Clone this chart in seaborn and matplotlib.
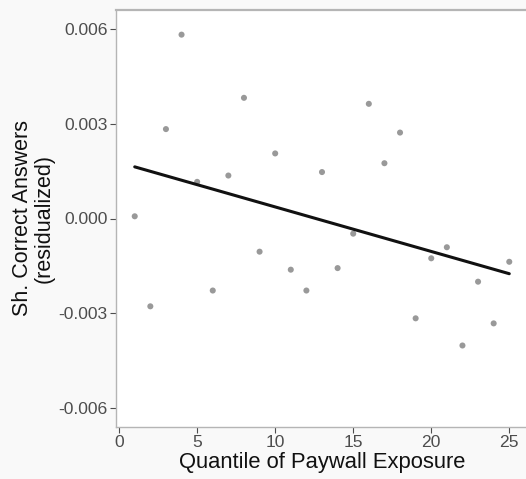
import matplotlib
matplotlib.use("Agg")
import matplotlib.pyplot as plt
import seaborn as sns
import pandas as pd

quantile = list(range(1, 26))
residual = [0.00007, -0.00278, 0.00283, 0.00582, 0.00116, -0.00228, 0.00136, 0.00382,
            -0.00105, 0.00206, -0.00162, -0.00228, 0.00147, -0.00157, -0.00048,
            0.00363, 0.00175, 0.00272, -0.00316, -0.00126, -0.00091, -0.00402,
            -0.00200, -0.00332, -0.00137]
yticks = [-0.006, -0.003, 0.0, 0.003, 0.006]
ytick_labels = ["-0.006", "-0.003", "0.000", "0.003", "0.006"]
xticks = [0, 5, 10, 15, 20, 25]

df = pd.DataFrame({"q": quantile, "r": residual})

sns.set_style("white")
plt.rcParams["font.family"] = ["Liberation Sans", "DejaVu Sans"]

fig = plt.figure(figsize=(5.26, 4.79), dpi=100, facecolor="#f9f9f9")
W, H = 526, 479
left, right, top, bottom = 116, 528, 10, 427
ax = fig.add_axes([left / W, 1 - bottom / H, (right - left) / W, (bottom - top) / H])
ax.set_facecolor("white")

sns.regplot(data=df, x="q", y="r", ax=ax, ci=None,
            scatter_kws=dict(s=19, color="#999999", edgecolor="none", alpha=1),
            line_kws=dict(color="#111111", lw=2.2))

ax.set_xlim(-0.2, 26.2)
ax.set_ylim(-0.0066, 0.0066)
ax.set_xticks(xticks)
ax.set_yticks(yticks)
ax.set_yticklabels(ytick_labels)
ax.tick_params(axis="both", labelsize=12.6, colors="#4d4d4d", length=4, width=0.8,
               direction="out", left=True, bottom=True, pad=2)
for s in ["left", "bottom", "top", "right"]:
    ax.spines[s].set_color("#b5b5b5")
    ax.spines[s].set_linewidth(1.0)
ax.spines["top"].set_linewidth(1.6)

ax.set_xlabel("Quantile of Paywall Exposure", fontsize=15.8, color="#111111", labelpad=1)
ax.set_ylabel("Sh. Correct Answers\n(residualized)", fontsize=15.5, color="#111111",
              labelpad=3, linespacing=1.0)

fig.savefig("out.png", dpi=100, facecolor=fig.get_facecolor())
